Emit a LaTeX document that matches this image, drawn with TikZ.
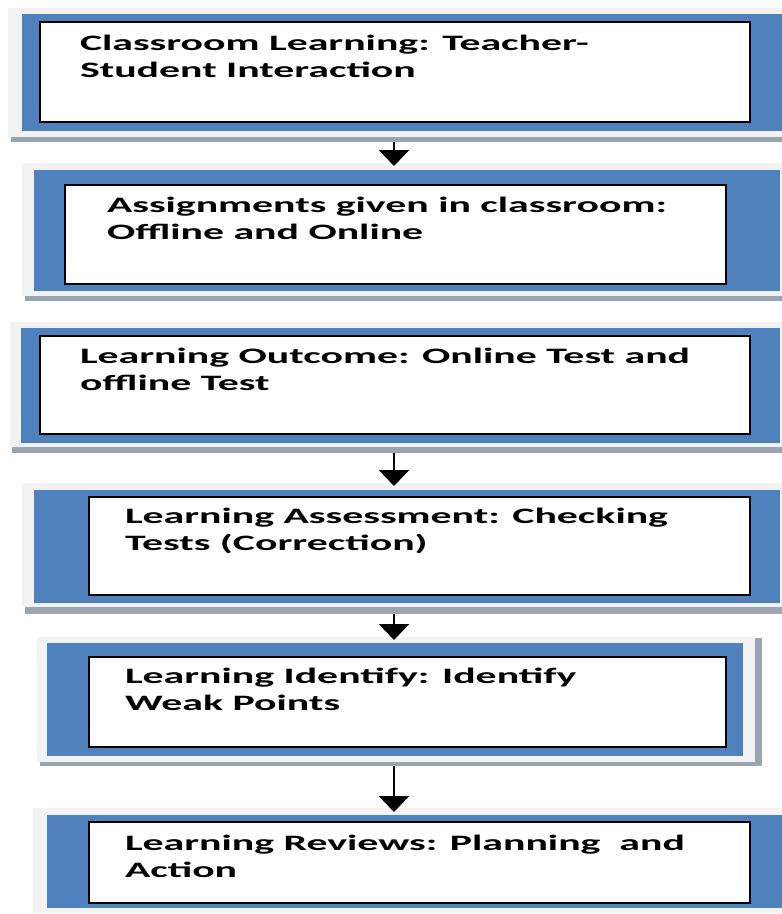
\documentclass[tikz,border=0pt]{standalone}
\usepackage{fontspec}
\setmainfont{Carlito}[FakeStretch=1.9]
\usetikzlibrary{arrows.meta}

\definecolor{bandblue}{HTML}{4F81BD}
\definecolor{framegray}{HTML}{F2F2F2}
\definecolor{shadowgray}{HTML}{9AA5B4}

\tikzset{
  box/.style={rectangle, inner sep=0pt, outer sep=0pt, anchor=north west},
  frame/.style={box, fill=framegray},
  shade/.style={box, fill=shadowgray},
  band/.style={box, fill=bandblue},
  inbox/.style={box, fill=white, draw=black, line width=1.6pt},
  stagetext/.style={anchor=base west, inner sep=0pt, outer sep=0pt,
    font=\fontsize{22}{27}\selectfont\bfseries},
  flow/.style={line width=2.6pt, -{Triangle[width=30pt,length=16pt]}},
}

\begin{document}
\begin{tikzpicture}[x=1pt,y=-1pt]
\useasboundingbox[fill=white] (0,0) rectangle (782,914);

% Stage 1
\node[shade, minimum width=774pt, minimum height=130pt] (s1shadow) at (11,12) {};
\node[frame, minimum width=774pt, minimum height=129pt] (s1frame) at (8,8) {};
\node[band,  minimum width=760pt, minimum height=117pt] (s1band) at (22,14) {};
\node[inbox, minimum width=710pt, minimum height=100pt] (s1box) at (40,22) {};
\node[stagetext] (s1text) at (80,50)
  {\parbox[t]{680pt}{Classroom Learning: Teacher-\\Student Interaction}};

% Stage 2
\node[shade, minimum width=760pt, minimum height=134pt] (s2shadow) at (25,167) {};
\node[frame, minimum width=760pt, minimum height=133pt] (s2frame) at (22,163) {};
\node[band,  minimum width=746pt, minimum height=121pt] (s2band) at (34,170) {};
\node[inbox, minimum width=661pt, minimum height=99pt] (s2box) at (65,185) {};
\node[stagetext] (s2text) at (107,212)
  {\parbox[t]{640pt}{Assignments given in classroom:\\Offline and Online}};

% Stage 3
\node[shade, minimum width=772pt, minimum height=130pt] (s3shadow) at (12,323) {};
\node[frame, minimum width=772pt, minimum height=125pt] (s3frame) at (10,322) {};
\node[band,  minimum width=759pt, minimum height=115pt] (s3band) at (21,328) {};
\node[inbox, minimum width=710pt, minimum height=98pt] (s3box) at (40,336) {};
\node[stagetext] (s3text) at (80,363)
  {\parbox[t]{680pt}{Learning Outcome: Online Test and\\offline Test}};

% Stage 4
\node[shade, minimum width=760pt, minimum height=130pt] (s4shadow) at (25,484) {};
\node[frame, minimum width=760pt, minimum height=124pt] (s4frame) at (22,483) {};
\node[band,  minimum width=746pt, minimum height=113pt] (s4band) at (34,490) {};
\node[inbox, minimum width=661pt, minimum height=98pt] (s4box) at (89,497) {};
\node[stagetext] (s4text) at (125,523)
  {\parbox[t]{640pt}{Learning Assessment: Checking\\Tests (Correction)}};

% Stage 5
\node[shade, minimum width=722pt, minimum height=128pt] (s5shadow) at (40,638) {};
\node[frame, minimum width=718pt, minimum height=125pt] (s5frame) at (37,637) {};
\node[band,  minimum width=696pt, minimum height=113pt] (s5band) at (47,643) {};
\node[inbox, minimum width=637pt, minimum height=90pt] (s5box) at (89,657) {};
\node[stagetext] (s5text) at (125,683)
  {\parbox[t]{620pt}{Learning Identify: Identify\\Weak Points}};

% Stage 6
\node[frame, minimum width=749pt, minimum height=105pt] (s6frame) at (33,808) {};
\node[band,  minimum width=735pt, minimum height=93pt] (s6band) at (47,815) {};
\node[inbox, minimum width=661pt, minimum height=81pt] (s6box) at (89,822) {};
\node[stagetext] (s6text) at (125,850)
  {\parbox[t]{640pt}{Learning Reviews: Planning~ and\\Action}};

% Connectors
\coordinate (axis) at (394,0);
\draw[flow] (s1shadow.south -| axis) -- ([yshift=-3pt]s2frame.north -| axis);
\draw[flow] (s3shadow.south -| axis) -- ([yshift=-3pt]s4frame.north -| axis);
\draw[flow] (s4shadow.south -| axis) -- ([yshift=-3pt]s5frame.north -| axis);
\draw[flow] (s5shadow.south -| axis) -- ([yshift=-4pt]s6frame.north -| axis);
\end{tikzpicture}
\end{document}
